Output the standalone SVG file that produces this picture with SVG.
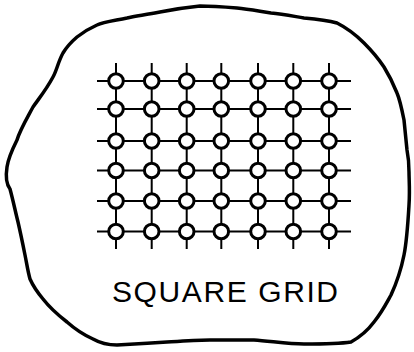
<svg xmlns="http://www.w3.org/2000/svg" width="414" height="352" viewBox="0 0 414 352">
<style>
.blob{fill:none;stroke:#000;stroke-width:3.5;stroke-linejoin:round}
.ln{stroke:#000;stroke-width:2;fill:none}
.nd{fill:#fff;stroke:#000;stroke-width:3}
.lbl{font-family:"Liberation Sans",Arial,sans-serif;font-size:30px;fill:#000}
</style>
<rect width="414" height="352" fill="#fff"/>
<path class="blob" d="M200,6 C180,8 165,11 160,12 C145,15 135,16 127,18 C112,21 103,22 97,25 C88,29 82,33 77,37 C70,43 66,48 63,53 C58,62 57,70 53,77 C46,90 40,97 33,107 C26,120 20,130 17,140 C12,150 8,160 7,167 C5,180 7,185 10,189 C13,200 15,210 18,222 C21,235 23,245 25,255 C27,265 28,272 30,279 C34,288 38,293 43,299 C50,308 58,315 67,322 C76,330 84,335 93,339 C100,343 108,345 117,345 C135,344 150,343 167,342 C185,341 200,340 210,340 C225,340 240,340 254,340 C270,341 288,344 304,344 C320,344 338,344 351,342 C360,337 368,330 374,322 C382,312 386,304 391,295 C397,282 401,270 404,255 C407,240 408,222 409,205 C410,190 409,180 409,172 C409,160 408,155 407,150 C406,140 405,130 404,120 C402,110 400,100 397,93 C393,83 389,75 384,67 C378,58 371,50 364,43 C356,35 347,28 337,23 C326,20 315,19 304,18 C292,16 282,14 271,13 C258,11 248,9 237,8 C225,7 213,6 200,6 Z"/>
<g id="connectors">
<path class="ln" d="M97,81H351M97,109H351M97,141H351M97,170.5H351M97,201H351M97,231.5H351"/>
<path class="ln" d="M116,63V249M151.7,63V249M186.7,63V249M221.3,63V249M258,63V249M293.3,63V249M329,63V249"/>
</g>
<g id="nodes">
<g id="r1"><circle class="nd" cx="116" cy="81" r="7.3"/><circle class="nd" cx="151.7" cy="81" r="7.3"/><circle class="nd" cx="186.7" cy="81" r="7.3"/><circle class="nd" cx="221.3" cy="81" r="7.3"/><circle class="nd" cx="258" cy="81" r="7.3"/><circle class="nd" cx="293.3" cy="81" r="7.3"/><circle class="nd" cx="329" cy="81" r="7.3"/></g>
<g id="r2"><circle class="nd" cx="116" cy="109" r="7.3"/><circle class="nd" cx="151.7" cy="109" r="7.3"/><circle class="nd" cx="186.7" cy="109" r="7.3"/><circle class="nd" cx="221.3" cy="109" r="7.3"/><circle class="nd" cx="258" cy="109" r="7.3"/><circle class="nd" cx="293.3" cy="109" r="7.3"/><circle class="nd" cx="329" cy="109" r="7.3"/></g>
<g id="r3"><circle class="nd" cx="116" cy="141" r="7.3"/><circle class="nd" cx="151.7" cy="141" r="7.3"/><circle class="nd" cx="186.7" cy="141" r="7.3"/><circle class="nd" cx="221.3" cy="141" r="7.3"/><circle class="nd" cx="258" cy="141" r="7.3"/><circle class="nd" cx="293.3" cy="141" r="7.3"/><circle class="nd" cx="329" cy="141" r="7.3"/></g>
<g id="r4"><circle class="nd" cx="116" cy="170.5" r="7.3"/><circle class="nd" cx="151.7" cy="170.5" r="7.3"/><circle class="nd" cx="186.7" cy="170.5" r="7.3"/><circle class="nd" cx="221.3" cy="170.5" r="7.3"/><circle class="nd" cx="258" cy="170.5" r="7.3"/><circle class="nd" cx="293.3" cy="170.5" r="7.3"/><circle class="nd" cx="329" cy="170.5" r="7.3"/></g>
<g id="r5"><circle class="nd" cx="116" cy="201" r="7.3"/><circle class="nd" cx="151.7" cy="201" r="7.3"/><circle class="nd" cx="186.7" cy="201" r="7.3"/><circle class="nd" cx="221.3" cy="201" r="7.3"/><circle class="nd" cx="258" cy="201" r="7.3"/><circle class="nd" cx="293.3" cy="201" r="7.3"/><circle class="nd" cx="329" cy="201" r="7.3"/></g>
<g id="r6"><circle class="nd" cx="116" cy="231.5" r="7.3"/><circle class="nd" cx="151.7" cy="231.5" r="7.3"/><circle class="nd" cx="186.7" cy="231.5" r="7.3"/><circle class="nd" cx="221.3" cy="231.5" r="7.3"/><circle class="nd" cx="258" cy="231.5" r="7.3"/><circle class="nd" cx="293.3" cy="231.5" r="7.3"/><circle class="nd" cx="329" cy="231.5" r="7.3"/></g>
</g>
<g id="label"><text class="lbl" x="112" y="302" textLength="226" lengthAdjust="spacing">SQUARE GRID</text></g>
</svg>
